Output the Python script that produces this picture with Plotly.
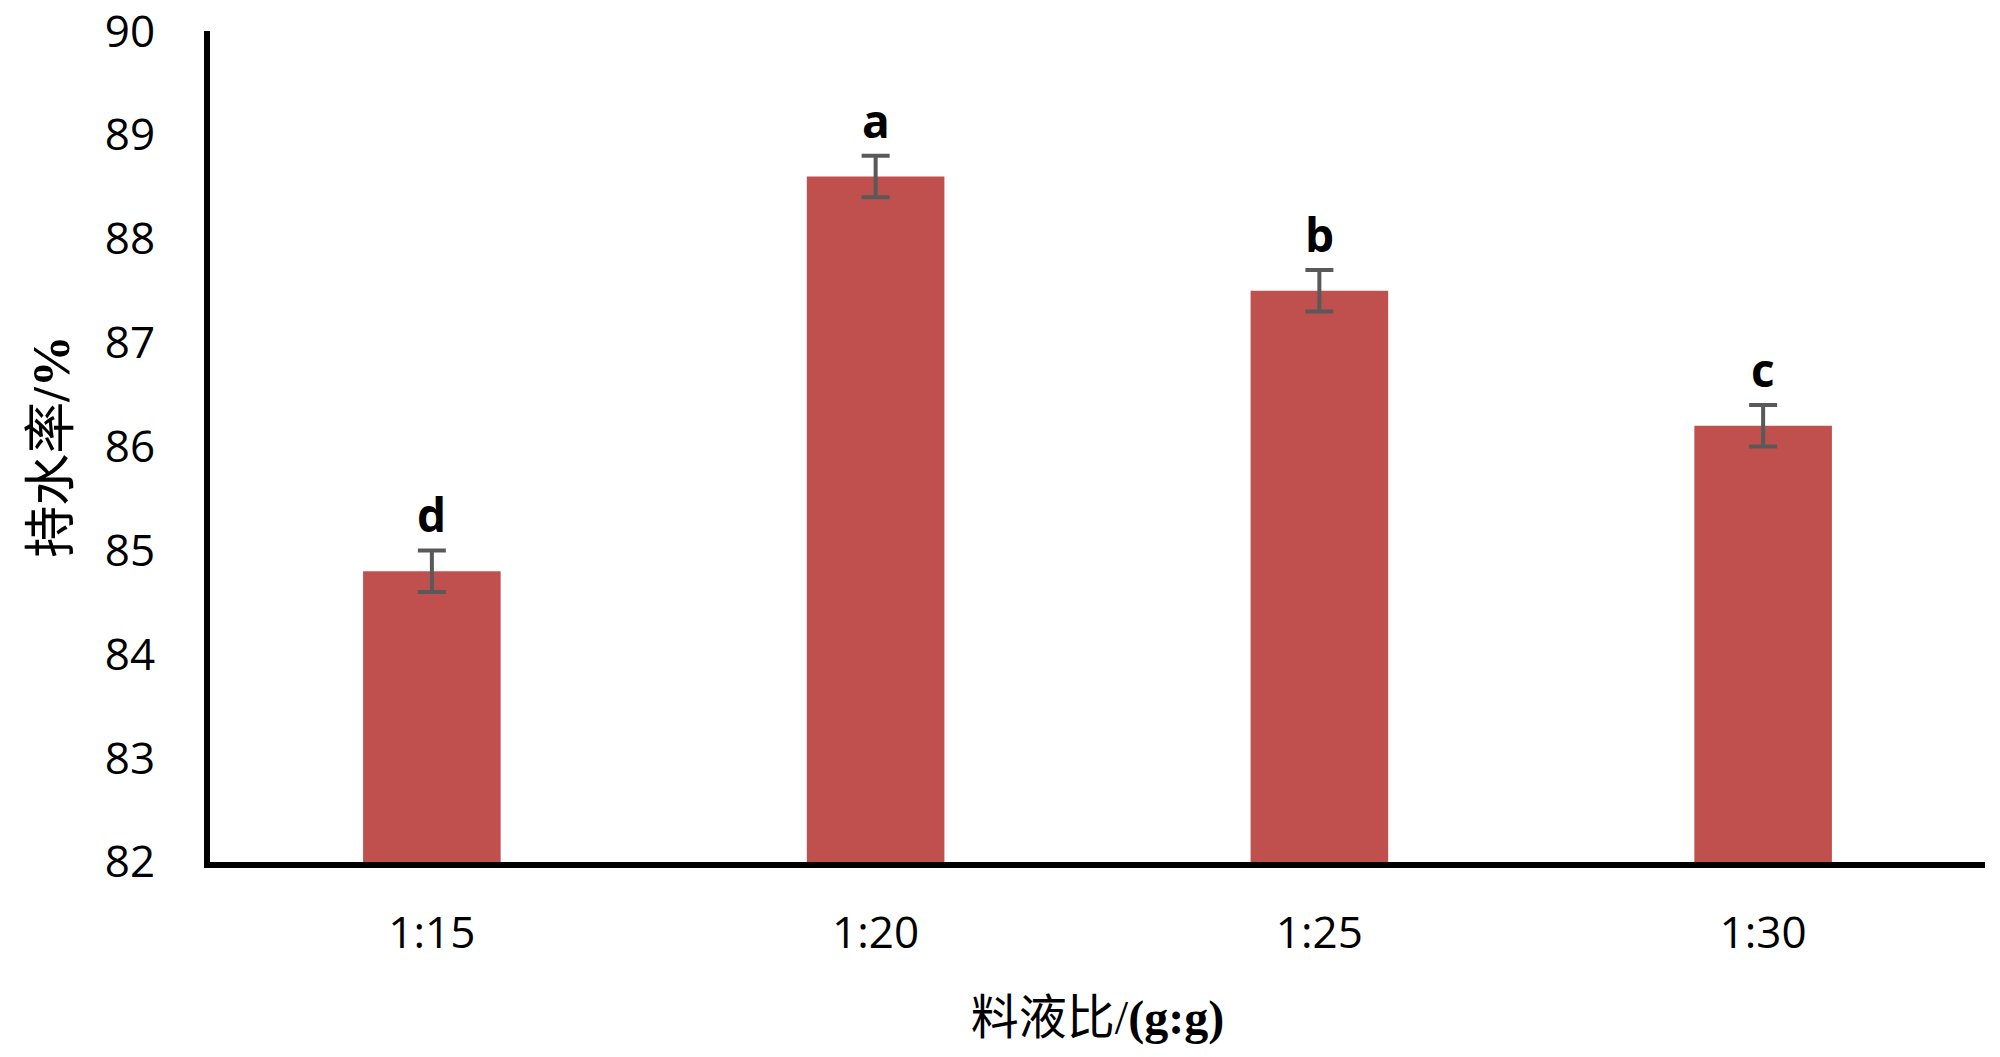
import plotly.graph_objects as go

# data
ratios = ["1:15", "1:20", "1:25", "1:30"]
water_holding = [84.8, 88.6, 87.5, 86.2]
errors = [0.2, 0.2, 0.2, 0.2]
letters = ["d", "a", "b", "c"]
y_ticks = [82, 83, 84, 85, 86, 87, 88, 89, 90]

fig = go.Figure()
fig.add_trace(go.Bar(
    x=ratios, y=water_holding,
    marker=dict(color="#C0504D", line=dict(width=0)),
    error_y=dict(type="data", array=errors, visible=True,
                 color="#595959", thickness=4, width=14),
    width=0.31,
))

for r, v, e, l in zip(ratios, water_holding, errors, letters):
    fig.add_annotation(x=r, y=v + e, text="<b>" + l + "</b>", showarrow=False,
                       yanchor="bottom", yshift=3,
                       font=dict(family="Open Sans", size=46, color="black"))

# page body has an 8px margin, so the figure is sized to fit inside it
fig.update_layout(
    width=1984, height=1041,
    plot_bgcolor="white", paper_bgcolor="white",
    margin=dict(l=202, r=7, t=23, b=187),
    showlegend=False,
    xaxis=dict(
        showline=True, linecolor="black", linewidth=6,
        tickfont=dict(family="Open Sans", size=44, color="black"),
        ticks="", showgrid=False, automargin=False,
        ticklabelstandoff=27,
        title=dict(text="料液比/<b>(g:g)</b>",
                   font=dict(family="Liberation Serif, Noto Sans CJK SC", size=48, color="black"),
                   standoff=43),
    ),
    yaxis=dict(
        range=[82, 90.001], tickvals=y_ticks,
        showline=True, linecolor="black", linewidth=6,
        tickfont=dict(family="Open Sans", size=44, color="black"),
        ticks="", showgrid=False, zeroline=False, automargin=False,
        ticklabelstandoff=40, ticklabeloverflow="allow",
        title=dict(text="持水率<b>/%</b>",
                   font=dict(family="Liberation Serif, Noto Sans CJK SC", size=52, color="black"),
                   standoff=21),
    ),
)

fig.write_html("out.html")
